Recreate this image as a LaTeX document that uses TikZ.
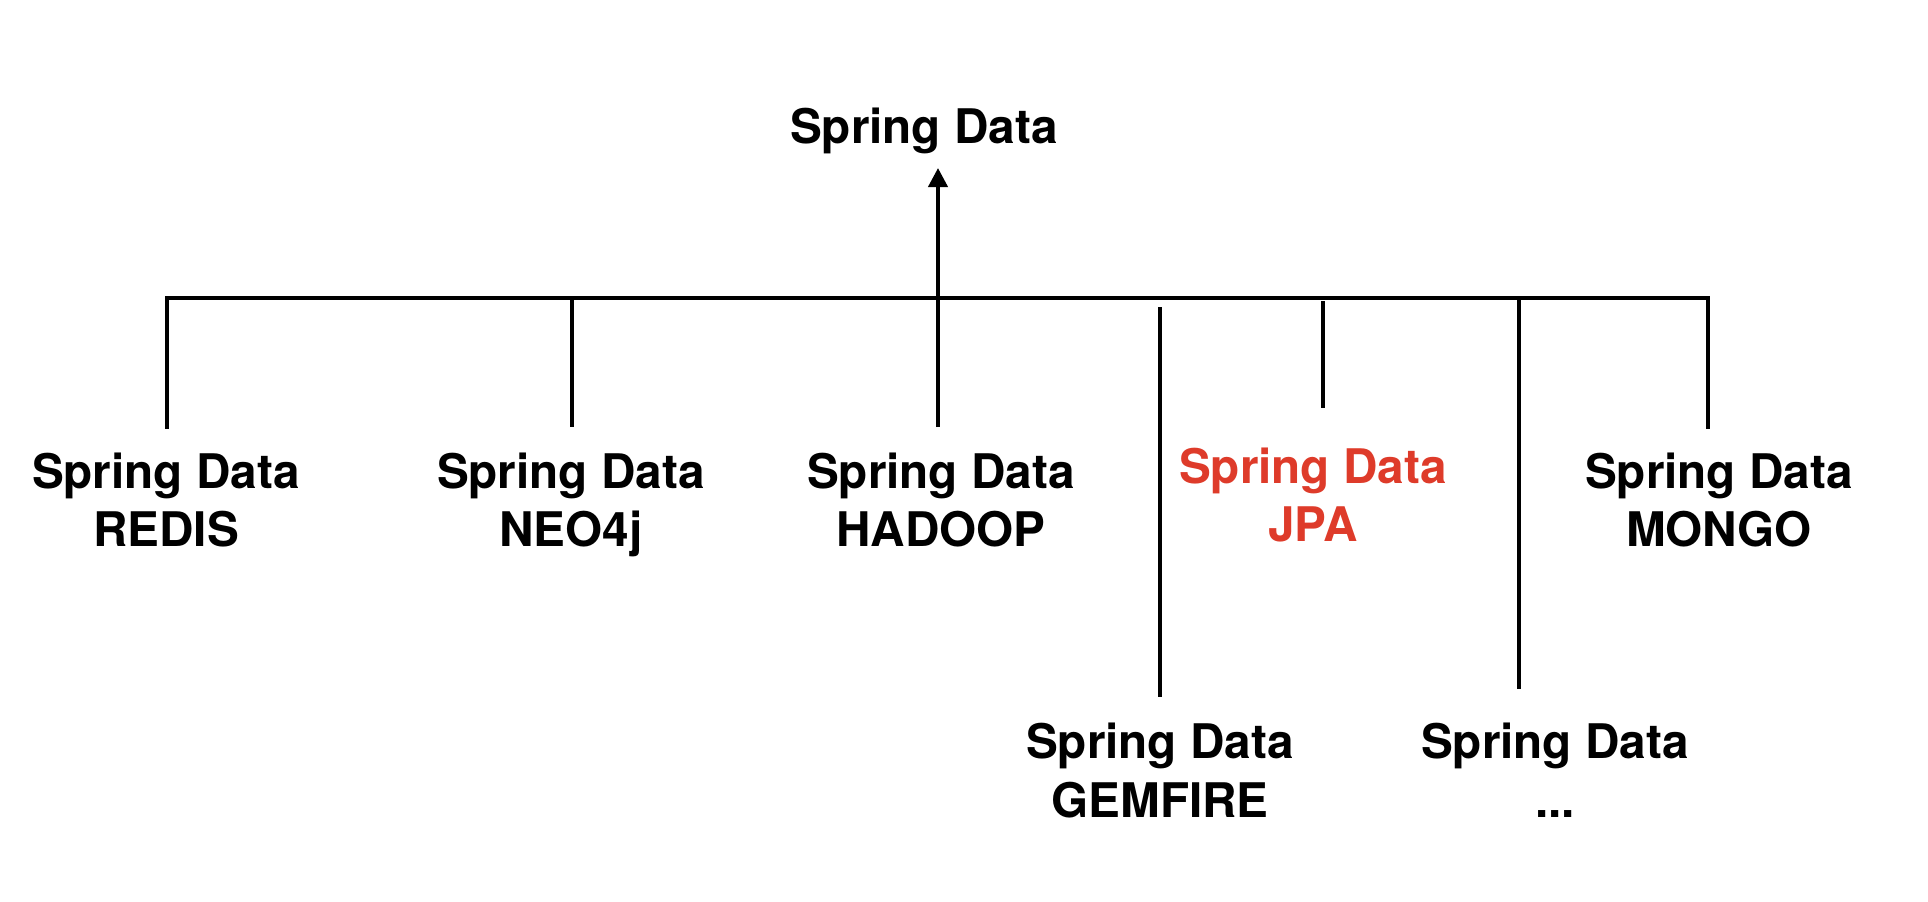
\documentclass[tikz,border=0pt]{standalone}
\usepackage{fontspec}
\setmainfont{TeX Gyre Heros}
\usetikzlibrary{arrows.meta}
\definecolor{jpared}{RGB}{222,59,42}
\begin{document}
\begin{tikzpicture}[x=1pt,y=-1pt,
  lbl/.style={anchor=base,inner sep=0pt,font=\fontsize{47.7}{56}\selectfont\bfseries},
  hl/.style={lbl,text=jpared},
  wire/.style={line width=4pt,black},
  uparrow/.style={wire,-{Triangle[length=19pt,width=19pt]}}]
\useasboundingbox (0,0) rectangle (1928,902);
% labels
\node[lbl] (root) at (924,143) {Spring Data};
\node[lbl] (redisA) at (166,488) {Spring Data};
\node[lbl] (redisB) at (166,546) {REDIS};
\node[lbl] (neoA) at (571,488) {Spring Data};
\node[lbl] (neoB) at (571,546) {NEO4j};
\node[lbl] (hadA) at (941,488) {Spring Data};
\node[lbl] (hadB) at (941,546) {HADOOP};
\node[hl] (jpaA) at (1313,483) {Spring Data};
\node[hl] (jpaB) at (1313,541) {JPA};
\node[lbl] (monA) at (1719,488) {Spring Data};
\node[lbl] (monB) at (1719,546) {MONGO};
\node[lbl] (gemA) at (1160,758) {Spring Data};
\node[lbl] (gemB) at (1160,817) {GEMFIRE};
\node[lbl] (etcA) at (1555,758) {Spring Data};
\node[lbl] (etcB) at (1555,817) {...};
% bar and line ends
\coordinate (barL) at (167,297.5);
\coordinate (barR) at (1708,297.5);
\coordinate (arrTip) at (938,168);
\coordinate (neoTop) at (572,297.5);
\coordinate (neoEnd) at (572,427);
\coordinate (hadTop) at (938,297.5);
\coordinate (hadEnd) at (938,427);
\coordinate (gemTop) at (1160,307);
\coordinate (gemEnd) at (1160,697);
\coordinate (jpaTop) at (1323,301);
\coordinate (jpaEnd) at (1323,408);
\coordinate (etcTop) at (1519,299.5);
\coordinate (etcEnd) at (1519,689);
\coordinate (redisEnd) at (167,427);
\coordinate (monEnd) at (1708,427);
% connectors
\draw[wire,line cap=rect] (redisEnd) -- (barL) -- (barR) -- (monEnd);
\draw[wire] (neoTop) -- (neoEnd);
\draw[wire] (hadEnd) -- (hadTop);
\draw[uparrow] (hadTop) -- (arrTip);
\draw[wire] (gemTop) -- (gemEnd);
\draw[wire] (jpaTop) -- (jpaEnd);
\draw[wire] (etcTop) -- (etcEnd);
\end{tikzpicture}
\end{document}
